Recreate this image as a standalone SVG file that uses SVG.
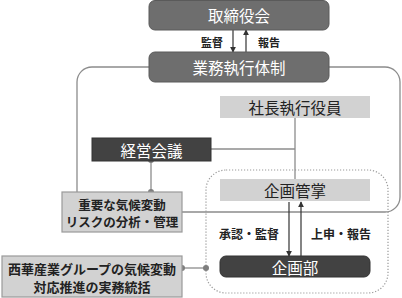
<svg xmlns="http://www.w3.org/2000/svg" width="402" height="298" viewBox="0 0 402 298">
<defs>
<style>
.t{font-family:"Noto Sans CJK JP","Noto Sans",sans-serif;text-anchor:middle;dominant-baseline:central}
.w{fill:#ffffff}
.d{fill:#222222}
.mid{fill:#6e6e6e;stroke:#5a5a5a;stroke-width:1}
.dark{fill:#424242;stroke:#333333;stroke-width:1}
.light{fill:#d2d2d2}
.lightb{fill:#d2d2d2;stroke:#9a9a9a;stroke-width:1.2}
.ln{stroke:#8c8c8c;stroke-width:1.3;fill:none}
.ar{stroke:#333333;stroke-width:1.2;fill:none;marker-end:url(#ah)}
.dot{fill:#7e7e7e}
</style>
<marker id="ah" viewBox="0 0 8 8" refX="7" refY="4" markerWidth="5" markerHeight="5" orient="auto">
<path d="M0,0 L8,4 L0,8 z" fill="#333333"/>
</marker>
</defs>
<rect x="0" y="0" width="402" height="298" fill="#ffffff"/>
<g id="connectors">
<rect x="77" y="67" width="323" height="145" rx="15" class="ln" stroke="#a8a8a8"/>
<rect x="206" y="170" width="182" height="123" rx="20" fill="none" stroke="#9a9a9a" stroke-width="1.2" stroke-dasharray="1.2 1.8"/>
<line x1="295" y1="118" x2="295" y2="179" class="ln"/>
<line x1="211" y1="149" x2="295" y2="149" class="ln"/>
<line x1="151" y1="160" x2="151" y2="192" class="ln"/>
<circle cx="151" cy="160" r="3" class="dot"/>
<circle cx="151" cy="192" r="3" class="dot"/>
<line x1="182" y1="268" x2="206" y2="268" class="ln"/>
<circle cx="182" cy="268" r="3" class="dot"/>
<circle cx="206" cy="268" r="3" class="dot"/>
<line x1="233" y1="30" x2="233" y2="52" class="ar"/>
<line x1="246" y1="52" x2="246" y2="30" class="ar"/>
<text x="212" y="42" class="t d" font-size="11" font-weight="bold">監督</text>
<text x="269" y="42" class="t d" font-size="11" font-weight="bold">報告</text>
<line x1="289" y1="202" x2="289" y2="256" class="ar"/>
<line x1="301" y1="256" x2="301" y2="202" class="ar"/>
<text x="249" y="233" class="t d" font-size="12" font-weight="bold">承認・監督</text>
<text x="341" y="233" class="t d" font-size="12" font-weight="bold">上申・報告</text>
</g>
<g id="board">
<rect x="149" y="0.5" width="180" height="29.5" rx="6" class="mid"/>
<text x="239" y="15" class="t w" font-size="15.5">取締役会</text>
</g>
<g id="exec-system">
<rect x="149" y="52" width="180" height="30" rx="6" class="mid"/>
<text x="239" y="67" class="t w" font-size="15.5">業務執行体制</text>
</g>
<g id="president">
<rect x="220" y="96" width="150" height="22" class="light"/>
<text x="295" y="107" class="t d" font-size="15.5">社長執行役員</text>
</g>
<g id="mgmt-meeting">
<rect x="92" y="138" width="119" height="23" class="dark"/>
<text x="151.5" y="149.5" class="t w" font-size="15.5">経営会議</text>
</g>
<g id="risk">
<rect x="62" y="192" width="120" height="40" class="lightb"/>
<text x="122" y="204" class="t d" font-size="12.5" font-weight="bold">重要な気候変動</text>
<text x="122" y="221.5" class="t d" font-size="12.5" font-weight="bold">リスクの分析・管理</text>
</g>
<g id="planning-head">
<rect x="220" y="179" width="150" height="22" class="light"/>
<text x="295" y="190" class="t d" font-size="15.5">企画管掌</text>
</g>
<g id="planning-dept">
<rect x="220" y="256" width="150" height="21" rx="6" class="dark"/>
<text x="295" y="266.5" class="t w" font-size="15.5">企画部</text>
</g>
<g id="group-lead">
<rect x="2" y="256" width="180" height="41" class="lightb"/>
<text x="92" y="268" class="t d" font-size="13" font-weight="bold">西華産業グループの気候変動</text>
<text x="92" y="286" class="t d" font-size="13" font-weight="bold">対応推進の実務統括</text>
</g>
</svg>
